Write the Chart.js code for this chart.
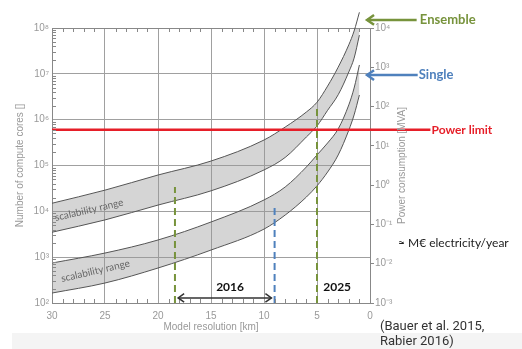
<!DOCTYPE html>
<html>
<head>
<meta charset="utf-8">
<script src="https://cdn.jsdelivr.net/npm/chart.js@4.4.1/dist/chart.umd.min.js"></script>
<style>
  html, body { margin: 0; padding: 0; background: #fff; }
  #wrap { position: relative; width: 522px; height: 349px; }
  #strip { position: absolute; left: 12px; top: 333px; width: 510px; height: 16px; background: #f4f4f4; }
  canvas { position: absolute; left: 0; top: 0; }
</style>
</head>
<body>
<div id="wrap"><div id="strip"></div><canvas id="chart" width="522" height="349"></canvas></div>
<script>
// model resolution [km] and the two scalability bands (number of cores)
const resolution = [30, 25, 20, 15, 10, 8, 6, 5, 4, 3, 2, 1.5, 1];
const ensembleUpper = [1.5e4, 2.9e4, 6.2e4, 1.25e5, 3.6e5, 6.9e5, 1.47e6, 2.4e6, 5.4e6, 1.4e7, 4.3e7, 8.6e7, 2.2e8];
const ensembleLower = [3.5e3, 6.5e3, 1.37e4, 2.8e4, 8.0e4, 1.5e5, 4.2e5, 7.3e5, 1.6e6, 3.5e6, 1.1e7, 2.2e7, 7.0e7];
const singleUpper = [745, 1230, 2370, 5850, 1.77e4, 3.4e4, 9.3e4, 1.7e5, 3.1e5, 6.3e5, 2.1e6, 4.9e6, 1.56e7];
const singleLower = [165, 273, 580, 1430, 4100, 8300, 2.05e4, 3.6e4, 7.2e4, 1.7e5, 5.9e5, 1.27e6, 3.45e6];

const powerLimit = 6e5;
const powerLimitSpan = [30, -5.7];
const markerRes = [18.4, 9.0, 5.0];
const markerTop = [3.4e4, 1.4e4, 1.9e6];
const markerColor = ['#77933c', '#4f81bd', '#77933c'];
const span2016 = [18.1, 9.3];
const span2016Level = 129;

const xTicks = [30, 25, 20, 15, 10, 5, 0];
const coreTicks = [1e2, 1e3, 1e4, 1e5, 1e6, 1e7, 1e8];
const powerTicks = [1e-3, 1e-2, 1e-1, 1e0, 1e1, 1e2, 1e3, 1e4];

const sup = {'-': '⁻', '0': '⁰', '1': '¹', '2': '²', '3': '³', '4': '⁴', '5': '⁵', '6': '⁶', '7': '⁷', '8': '⁸', '9': '⁹'};
function powLabel(v) {
  const e = Math.round(Math.log10(v));
  return '10' + String(e).split('').map(c => sup[c]).join('');
}
const pts = arr => arr.map((v, i) => ({x: resolution[i], y: v}));

const bandLine = {
  borderColor: '#555', borderWidth: 1, pointRadius: 0, cubicInterpolationMode: 'monotone',
  capBezierPoints: false, clip: false, backgroundColor: 'rgba(150,150,150,0.4)'
};

const datasets = [
  {data: powerLimitSpan.map(x => ({x, y: powerLimit})), borderColor: '#e61e28', borderWidth: 2.5, pointRadius: 0, clip: false, fill: false},
  ...markerRes.map((r, i) => ({
    data: [{x: r, y: 100}, {x: r, y: markerTop[i]}], borderColor: markerColor[i], borderWidth: 2,
    borderDash: [7, 4], pointRadius: 0, fill: false
  })),
  {data: span2016.map(x => ({x, y: span2016Level})), borderColor: '#333', borderWidth: 1.5, pointRadius: 0, fill: false},
  {...bandLine, data: pts(ensembleUpper), fill: '+1'},
  {...bandLine, data: pts(ensembleLower), fill: false},
  {...bandLine, data: pts(singleUpper), fill: '+1'},
  {...bandLine, data: pts(singleLower), fill: false}
];

function arrowHead(ctx, x, y, dir, size) {
  ctx.beginPath();
  ctx.moveTo(x - dir * size, y - size * 0.7);
  ctx.lineTo(x, y);
  ctx.lineTo(x - dir * size, y + size * 0.7);
  ctx.stroke();
}

const overlay = {
  id: 'overlay',
  afterDraw(chart) {
    const {ctx, chartArea: a} = chart;
    const x = chart.scales.x, y = chart.scales.y, y2 = chart.scales.y2;
    const px = v => x.getPixelForValue(v);
    const py = v => y.getPixelForValue(v);
    ctx.save();

    // minor ticks inside the frame
    ctx.strokeStyle = '#888';
    ctx.lineWidth = 1;
    ctx.beginPath();
    for (let km = 1; km < 30; km++) {
      if (km % 5 === 0) continue;
      const X = Math.round(px(km)) + 0.5;
      ctx.moveTo(X, a.bottom); ctx.lineTo(X, a.bottom - 4);
      ctx.moveTo(X, a.top); ctx.lineTo(X, a.top + 4);
    }
    for (let e = 2; e < 8; e++) {
      for (let m = 2; m < 10; m++) {
        const Y = Math.round(py(m * 10 ** e)) + 0.5;
        ctx.moveTo(a.left, Y); ctx.lineTo(a.left + 4, Y);
      }
    }
    ctx.stroke();

    // 2016 double arrow heads
    ctx.strokeStyle = '#333';
    ctx.lineWidth = 1.5;
    arrowHead(ctx, px(span2016[0]), py(span2016Level), -1, 6);
    arrowHead(ctx, px(span2016[1]), py(span2016Level), 1, 6);

    // scalability range labels
    ctx.fillStyle = '#666';
    ctx.font = '10px Lato';
    ctx.textAlign = 'center';
    ctx.textBaseline = 'middle';
    [[26.5, 1.07e4], [25.9, 500]].forEach(([r, v]) => {
      ctx.save();
      ctx.translate(px(r), py(v));
      ctx.rotate(-13 * Math.PI / 180);
      ctx.fillText('scalability range', 0, 0);
      ctx.restore();
    });

    // period labels
    ctx.fillStyle = '#111';
    ctx.font = 'bold 12px Lato';
    ctx.fillText('2016', px(13.2), py(223));
    ctx.fillText('2025', px(3.1), py(223));

    // right-hand annotations
    ctx.lineWidth = 2.5;
    ctx.strokeStyle = '#77933c';
    ctx.beginPath(); ctx.moveTo(px(-4.4), py(1.5e8)); ctx.lineTo(px(0.28), py(1.5e8)); ctx.stroke();
    arrowHead(ctx, px(0.28), py(1.5e8), -1, 7);
    ctx.strokeStyle = '#4f81bd';
    ctx.beginPath(); ctx.moveTo(px(-4.5), py(9.4e6)); ctx.lineTo(px(0.28), py(9.4e6)); ctx.stroke();
    arrowHead(ctx, px(0.28), py(9.4e6), -1, 7);

    ctx.textAlign = 'left';
    ctx.font = 'bold 13px Lato';
    ctx.fillStyle = '#77933c';
    ctx.fillText('Ensemble', px(-4.7), py(1.5e8));
    ctx.fillStyle = '#4f81bd';
    ctx.fillText('Single', px(-4.6), py(9.4e6));
    ctx.font = 'bold 12px Lato';
    ctx.fillStyle = '#e61e28';
    ctx.fillText('Power limit', px(-5.8), py(powerLimit));

    ctx.fillStyle = '#222';
    ctx.font = '12px Lato';
    ctx.fillText('≈ M€ electricity/year', px(-2.64), py(2040));

    ctx.fillStyle = '#333';
    ctx.font = '13px Roboto';
    ctx.fillText('(Bauer et al. 2015,', px(-0.94), py(30));
    ctx.fillText('Rabier 2016)', px(-0.94), py(14));

    // right axis title, reading bottom to top
    ctx.save();
    ctx.translate(y2.left + 32, (a.top + a.bottom) / 2);
    ctx.rotate(-Math.PI / 2);
    ctx.textAlign = 'center';
    ctx.fillStyle = '#999';
    ctx.font = '10px "Liberation Sans"';
    ctx.fillText('Power consumption [MVA]', 0, 0);
    ctx.restore();

    ctx.restore();
  }
};

Chart.defaults.font.family = '"Liberation Sans"';

new Chart(document.getElementById('chart'), {
  type: 'line',
  data: {datasets},
  options: {
    responsive: false,
    animation: false,
    layout: {padding: {top: 28}},
    plugins: {
      legend: {display: false},
      tooltip: {enabled: false},
      filler: {drawTime: 'beforeDatasetsDraw'}
    },
    scales: {
      x: {
        type: 'linear', min: 0, max: 30, reverse: true,
        afterBuildTicks: s => { s.ticks = xTicks.map(v => ({value: v})); },
        afterFit: s => { s.height = 46; },
        grid: {color: '#a0a0a0', drawTicks: false},
        border: {color: '#888'},
        ticks: {color: '#999', font: {size: 10}, padding: 7},
        title: {display: true, text: 'Model resolution [km]', color: '#999', font: {size: 10}, padding: {top: 0, bottom: 16}}
      },
      y: {
        type: 'logarithmic', min: 1e2, max: 1e8,
        afterBuildTicks: s => { s.ticks = coreTicks.map(v => ({value: v})); },
        afterFit: s => { s.width = 52; },
        grid: {color: ctx => ctx.tick && ctx.tick.value === 1e8 ? '#888' : '#a0a0a0', drawTicks: false},
        border: {color: '#888'},
        ticks: {color: '#999', font: {size: 10}, padding: 3, autoSkip: false, callback: v => powLabel(v)},
        title: {display: true, text: 'Number of compute cores []', color: '#999', font: {size: 10}, padding: {top: 14, bottom: 0}}
      },
      y2: {
        type: 'logarithmic', position: 'right', min: 1e-3, max: 1e4,
        afterBuildTicks: s => { s.ticks = powerTicks.map(v => ({value: v})); },
        afterFit: s => { s.width = 152; },
        grid: {drawOnChartArea: false, color: '#888', tickLength: 4},
        border: {color: '#888'},
        ticks: {color: '#999', font: {size: 10}, padding: 1, autoSkip: false, callback: v => powLabel(v)}
      }
    }
  },
  plugins: [overlay]
});
</script>
</body>
</html>
